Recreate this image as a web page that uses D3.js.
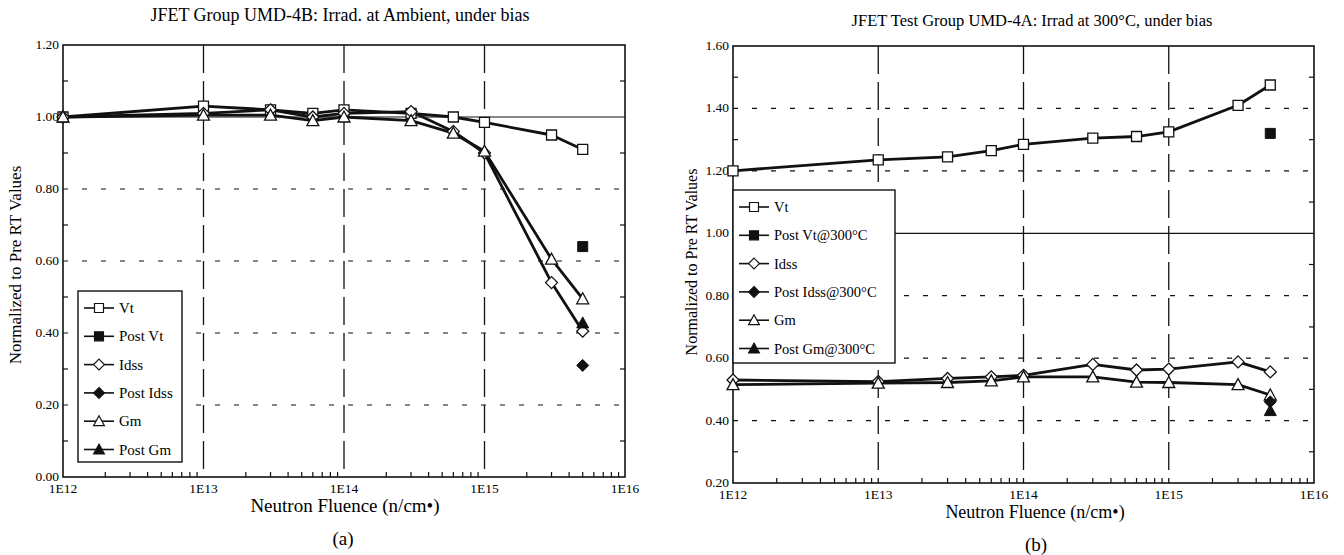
<!DOCTYPE html>
<html>
<head>
<meta charset="utf-8">
<script src="https://cdn.jsdelivr.net/npm/d3@7"></script>
<style>
  body { margin: 0; background: #fff; }
  svg { font-family: 'Liberation Serif', 'DejaVu Serif', serif; }
</style>
</head>
<body>
<svg id="chart" width="1344" height="555"></svg>
<script>
// fluence points (n/cm2)
const fluence = [1e12, 1e13, 3e13, 6e13, 1e14, 3e14, 6e14, 1e15, 3e15, 5e15];
const postFluence = [5e15];

// (a) UMD-4B, ambient
const ambVt = [1.00, 1.03, 1.02, 1.01, 1.02, 1.01, 1.00, 0.985, 0.95, 0.91];
const ambIdss = [1.00, 1.01, 1.02, 1.00, 1.01, 1.015, 0.96, 0.90, 0.54, 0.405];
const ambGm = [1.00, 1.005, 1.005, 0.99, 1.00, 0.99, 0.955, 0.905, 0.605, 0.495];
const ambPostVt = [0.64];
const ambPostIdss = [0.31];
const ambPostGm = [0.428];

// (b) UMD-4A, 300C
const hotVt = [1.20, 1.235, 1.245, 1.265, 1.285, 1.305, 1.31, 1.325, 1.41, 1.475];
const hotIdss = [0.53, 0.525, 0.535, 0.54, 0.545, 0.58, 0.562, 0.565, 0.588, 0.556];
const hotGm = [0.515, 0.52, 0.522, 0.527, 0.54, 0.54, 0.523, 0.522, 0.515, 0.482];
const hotPostVt = [1.32];
const hotPostIdss = [0.46];
const hotPostGm = [0.432];

const xTicks = [1e12, 1e13, 1e14, 1e15, 1e16];
const xTickLabels = ['1E12', '1E13', '1E14', '1E15', '1E16'];
const ambYTicks = [0, 0.2, 0.4, 0.6, 0.8, 1.0, 1.2];
const hotYTicks = [0.2, 0.4, 0.6, 0.8, 1.0, 1.2, 1.4, 1.6];

const ambLegend = ['Vt', 'Post Vt', 'Idss', 'Post Idss', 'Gm', 'Post Gm'];
const hotLegend = ['Vt', 'Post Vt@300°C', 'Idss', 'Post Idss@300°C', 'Gm', 'Post Gm@300°C'];

const svg = d3.select('#chart');

function markerPath(type) {
  if (type === 'square') return 'M-5,-5H5V5H-5Z';
  if (type === 'diamond') return 'M0,-6L6,0L0,6L-6,0Z';
  return 'M0,-6L6,5H-6Z';
}

function drawChart(cfg) {
  const g = svg.append('g');
  const x = d3.scaleLog().domain([1e12, 1e16]).range([cfg.left, cfg.right]);
  const y = d3.scaleLinear().domain(cfg.yDomain).range([cfg.bottom, cfg.top]);

  // title
  g.append('text')
    .attr('x', cfg.titleX).attr('y', cfg.titleY)
    .attr('text-anchor', 'middle')
    .style('font-size', cfg.titleSize + 'px')
    .text(cfg.title);

  // horizontal grid
  cfg.yTicks.filter(v => v > cfg.yDomain[0] && v < cfg.yDomain[1]).forEach(v => {
    g.append('line')
      .attr('x1', cfg.left).attr('x2', cfg.right)
      .attr('y1', y(v)).attr('y2', y(v))
      .attr('stroke', '#111')
      .attr('stroke-width', 1.2)
      .attr('stroke-dasharray', Math.abs(v - 1) < 1e-9 ? null : '5,14');
  });

  // vertical grid
  [1e13, 1e14, 1e15].forEach(v => {
    g.append('line')
      .attr('x1', x(v)).attr('x2', x(v))
      .attr('y1', cfg.top).attr('y2', cfg.bottom)
      .attr('stroke', '#111')
      .attr('stroke-width', 1.3)
      .attr('stroke-dasharray', '28,8');
  });

  // minor ticks on x (log)
  for (let d = 12; d < 16; d++) {
    for (let m = 2; m <= 9; m++) {
      const xv = x(m * Math.pow(10, d));
      g.append('line')
        .attr('x1', xv).attr('x2', xv)
        .attr('y1', cfg.bottom).attr('y2', cfg.bottom - 5)
        .attr('stroke', '#111').attr('stroke-width', 1.2);
    }
  }

  // minor ticks on y
  for (let v = cfg.yDomain[0] + 0.1; v < cfg.yDomain[1]; v += 0.2) {
    [[cfg.left, 5], [cfg.right, -5]].forEach(([xx, dx]) => {
      g.append('line')
        .attr('x1', xx).attr('x2', xx + dx)
        .attr('y1', y(v)).attr('y2', y(v))
        .attr('stroke', '#111').attr('stroke-width', 1.2);
    });
  }

  // frame
  g.append('rect')
    .attr('x', cfg.left).attr('y', cfg.top)
    .attr('width', cfg.right - cfg.left).attr('height', cfg.bottom - cfg.top)
    .attr('fill', 'none').attr('stroke', '#111').attr('stroke-width', 1.6);

  // tick labels
  g.selectAll('.ylab')
    .data(cfg.yTicks)
    .enter().append('text')
      .attr('x', cfg.left - 4).attr('y', d => y(d) + 4)
      .attr('text-anchor', 'end')
      .style('font-size', '13.5px')
      .text(d => d.toFixed(2));

  g.selectAll('.xlab')
    .data(xTicks)
    .enter().append('text')
      .attr('x', d => x(d)).attr('y', cfg.bottom + 16)
      .attr('text-anchor', 'middle')
      .style('font-size', '13.5px')
      .text((d, i) => xTickLabels[i]);

  // axis titles
  g.append('text')
    .attr('x', cfg.xTitleX).attr('y', cfg.bottom + 35)
    .attr('text-anchor', 'middle')
    .style('font-size', cfg.xTitleSize + 'px')
    .text('Neutron Fluence (n/cm•)');

  g.append('text')
    .attr('transform', `translate(${cfg.yTitleX}, ${cfg.yTitleY}) rotate(-90)`)
    .attr('text-anchor', 'middle')
    .style('font-size', cfg.yTitleSize + 'px')
    .text('Normalized to Pre RT Values');

  g.append('text')
    .attr('x', cfg.tagX).attr('y', cfg.bottom + 68)
    .attr('text-anchor', 'middle')
    .style('font-size', '19px')
    .text(cfg.tag);

  // legend
  const lg = g.append('g').attr('transform', `translate(${cfg.legend.x}, ${cfg.legend.y})`);
  lg.append('rect')
    .attr('width', cfg.legend.w).attr('height', cfg.legend.h)
    .attr('fill', '#fff').attr('stroke', '#111').attr('stroke-width', 1.4);
  const kinds = ['square', 'square', 'diamond', 'diamond', 'triangle', 'triangle'];
  cfg.legendLabels.forEach((lab, i) => {
    const row = lg.append('g').attr('transform', `translate(0, ${17 + i * 28.3})`);
    row.append('line')
      .attr('x1', 6).attr('x2', 36)
      .attr('stroke', '#111').attr('stroke-width', 1.6);
    row.append('path')
      .attr('d', markerPath(kinds[i]))
      .attr('transform', 'translate(21, 0) scale(0.9)')
      .attr('fill', i % 2 ? '#111' : '#fff')
      .attr('stroke', '#111').attr('stroke-width', 1.3);
    row.append('text')
      .attr('x', 41).attr('y', 5)
      .style('font-size', cfg.legendSize + 'px')
      .text(lab);
  });

  // data lines
  const line = d3.line().x(d => x(d[0])).y(d => y(d[1]));
  const series = [
    { vals: cfg.vt, kind: 'square' },
    { vals: cfg.idss, kind: 'diamond' },
    { vals: cfg.gm, kind: 'triangle' },
  ];
  series.forEach(s => {
    g.append('path')
      .datum(fluence.map((f, i) => [f, s.vals[i]]))
      .attr('d', line)
      .attr('fill', 'none')
      .attr('stroke', '#111')
      .attr('stroke-width', 2.8)
      .attr('stroke-linejoin', 'round');
  });
  series.forEach(s => {
    g.selectAll(null)
      .data(fluence.map((f, i) => [f, s.vals[i]]))
      .enter().append('path')
        .attr('d', markerPath(s.kind))
        .attr('transform', d => `translate(${x(d[0])}, ${y(d[1])})`)
        .attr('fill', '#fff')
        .attr('stroke', '#111')
        .attr('stroke-width', 1.3);
  });

  // post-anneal points
  [[cfg.postVt, 'square'], [cfg.postIdss, 'diamond'], [cfg.postGm, 'triangle']].forEach(([vals, kind]) => {
    g.selectAll(null)
      .data(postFluence.map((f, i) => [f, vals[i]]))
      .enter().append('path')
        .attr('d', markerPath(kind))
        .attr('transform', d => `translate(${x(d[0])}, ${y(d[1])})`)
        .attr('fill', '#111')
        .attr('stroke', '#111')
        .attr('stroke-width', 1);
  });
}

drawChart({
  left: 63, right: 625, top: 45, bottom: 477,
  yDomain: [0, 1.2], yTicks: ambYTicks,
  title: 'JFET Group UMD-4B: Irrad. at Ambient, under bias',
  titleX: 340, titleY: 21, titleSize: 18,
  xTitleX: 345, xTitleSize: 19, yTitleX: 21, yTitleY: 265, yTitleSize: 17,
  tagX: 343, tag: '(a)',
  legend: { x: 78, y: 291, w: 104, h: 171 }, legendSize: 15,
  legendLabels: ambLegend,
  vt: ambVt, idss: ambIdss, gm: ambGm,
  postVt: ambPostVt, postIdss: ambPostIdss, postGm: ambPostGm,
});

drawChart({
  left: 733, right: 1314, top: 46, bottom: 483,
  yDomain: [0.2, 1.6], yTicks: hotYTicks,
  title: 'JFET Test Group UMD-4A: Irrad at 300°C, under bias',
  titleX: 1032, titleY: 26, titleSize: 16.5,
  xTitleX: 1035, xTitleSize: 18, yTitleX: 697, yTitleY: 262, yTitleSize: 16,
  tagX: 1036, tag: '(b)',
  legend: { x: 733, y: 190, w: 162, h: 173 }, legendSize: 14.5,
  legendLabels: hotLegend,
  vt: hotVt, idss: hotIdss, gm: hotGm,
  postVt: hotPostVt, postIdss: hotPostIdss, postGm: hotPostGm,
});
</script>
</body>
</html>
